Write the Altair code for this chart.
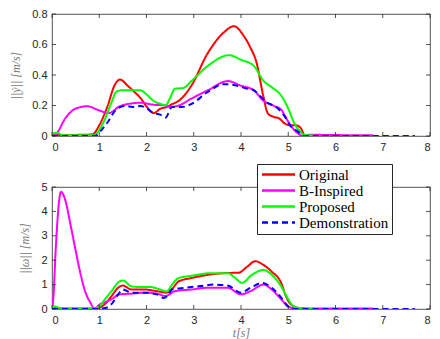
import altair as alt
import pandas as pd

series = ["Original", "B-Inspired", "Proposed", "Demonstration"]
colors = ["#ff0000", "#ff00ff", "#00ff00", "#0000ff"]

# ---- top panel: ||y'|| ----
top_orig_t = [0, 0.3, 0.6, 0.85, 1.0, 1.18, 1.32, 1.44, 1.6, 1.74, 1.87, 2.01, 2.15, 2.3, 2.43, 2.55, 2.68, 2.95, 3.29, 3.64, 3.85, 4.05, 4.19, 4.33, 4.47, 4.57, 4.7, 4.81, 4.92, 5.05, 5.17, 5.27, 5.35, 5.45]
top_orig_v = [0.012, 0.005, 0.008, 0.01, 0.07, 0.2, 0.33, 0.37, 0.33, 0.29, 0.25, 0.19, 0.15, 0.18, 0.19, 0.21, 0.23, 0.33, 0.54, 0.68, 0.72, 0.66, 0.585, 0.48, 0.265, 0.147, 0.125, 0.115, 0.083, 0.07, 0.07, 0.05, 0.005, 0.003]

top_bins_t = [0.0, 0.08, 0.28, 0.5, 0.75, 0.98, 1.2, 1.45, 1.87, 2.15, 2.42, 2.5, 2.68, 2.95, 3.3, 3.72, 4.0, 4.27, 4.48, 4.68, 4.86, 4.92, 5.05, 5.19, 5.33, 5.45, 6.0, 6.8]
top_bins_v = [0.0, 0.01, 0.115, 0.18, 0.195, 0.17, 0.15, 0.197, 0.218, 0.205, 0.2, 0.19, 0.2, 0.245, 0.3, 0.36, 0.33, 0.30, 0.23, 0.2, 0.17, 0.137, 0.07, 0.02, 0.0, 0.008, 0.006, 0.005]

top_prop_t = [0, 0.1, 0.25, 0.6, 0.88, 1.09, 1.26, 1.36, 1.48, 1.74, 1.87, 2.01, 2.15, 2.3, 2.4, 2.5, 2.6, 2.78, 2.95, 3.3, 3.75, 4.0, 4.27, 4.48, 4.65, 4.85, 5.0, 5.13, 5.25, 5.34, 5.55]
top_prop_v = [0.015, 0.02, 0.005, 0.005, 0.005, 0.09, 0.22, 0.29, 0.30, 0.30, 0.30, 0.27, 0.23, 0.21, 0.2, 0.25, 0.31, 0.315, 0.36, 0.46, 0.53, 0.5, 0.46, 0.36, 0.32, 0.265, 0.18, 0.083, 0.03, 0.008, 0.003]

top_demo_t = [0, 0.3, 0.6, 0.9, 1.05, 1.2, 1.35, 1.55, 1.74, 1.87, 2.01, 2.15, 2.29, 2.4, 2.54, 2.75, 2.95, 3.3, 3.64, 3.85, 4.13, 4.27, 4.41, 4.55, 4.68, 4.78, 4.9, 5.05, 5.2, 5.33, 6.0, 7.0, 7.68]
top_demo_v = [0.0, 0.0, 0.0, 0.0, 0.04, 0.1, 0.17, 0.197, 0.19, 0.197, 0.18, 0.15, 0.14, 0.12, 0.19, 0.19, 0.21, 0.29, 0.34, 0.335, 0.31, 0.30, 0.26, 0.22, 0.2, 0.18, 0.14, 0.065, 0.03, 0.0, 0.0, 0.0, 0.0]

# ---- bottom panel: ||w|| ----
bot_orig_t = [0, 0.1, 0.3, 0.6, 0.9, 1.0, 1.12, 1.26, 1.4, 1.5, 1.68, 1.95, 2.22, 2.43, 2.55, 2.68, 2.95, 3.3, 3.64, 3.95, 4.13, 4.3, 4.48, 4.65, 4.85, 4.95, 5.05, 5.2, 5.4]
bot_orig_v = [0.02, 0.05, 0.02, 0.02, 0.02, 0.05, 0.2, 0.53, 0.87, 0.96, 0.8, 0.8, 0.73, 0.67, 0.85, 1.13, 1.27, 1.4, 1.47, 1.49, 1.73, 1.96, 1.8, 1.53, 1.07, 0.53, 0.2, 0.05, 0.0]

bot_bins_t = [0, 0.03, 0.08, 0.19, 0.29, 0.39, 0.5, 0.6, 0.7, 0.81, 0.9, 1.02, 1.15, 1.26, 1.43, 1.68, 1.95, 2.22, 2.4, 2.6, 2.95, 3.3, 3.72, 4.0, 4.2, 4.48, 4.65, 4.85, 5.0, 5.13, 6.0, 6.8]
bot_bins_v = [0.0, 0.5, 2.5, 4.8, 4.4, 3.47, 2.4, 1.47, 0.73, 0.27, 0.02, 0.2, 0.3, 0.4, 0.6, 0.63, 0.67, 0.63, 0.53, 0.73, 0.8, 0.87, 0.87, 0.6, 0.73, 1.0, 0.8, 0.4, 0.1, 0.03, 0.02, 0.02]

bot_prop_t = [0, 0.05, 0.15, 0.3, 0.6, 0.9, 1.0, 1.12, 1.26, 1.4, 1.5, 1.68, 1.88, 2.08, 2.29, 2.43, 2.54, 2.68, 2.95, 3.37, 3.72, 3.88, 4.02, 4.23, 4.48, 4.65, 4.85, 5.0, 5.1, 5.27, 5.6]
bot_prop_v = [0.05, 0.1, 0.05, 0.02, 0.02, 0.02, 0.1, 0.4, 0.73, 1.09, 1.17, 0.93, 0.9, 0.9, 0.8, 0.72, 1.0, 1.27, 1.36, 1.47, 1.47, 1.27, 1.07, 1.4, 1.6, 1.4, 0.93, 0.4, 0.13, 0.03, 0.0]

bot_demo_t = [0, 0.5, 1.0, 1.15, 1.26, 1.4, 1.5, 1.68, 1.95, 2.22, 2.36, 2.45, 2.54, 2.81, 3.1, 3.44, 3.72, 4.0, 4.2, 4.45, 4.65, 4.85, 5.0, 5.13, 6.0, 7.0, 7.68]
bot_demo_v = [0, 0, 0, 0.05, 0.2, 0.6, 0.8, 0.67, 0.67, 0.6, 0.45, 0.55, 0.8, 0.87, 0.93, 1.0, 0.96, 0.67, 0.87, 1.07, 0.87, 0.47, 0.1, 0.0, 0, 0, 0]

x_ticks = [0, 1, 2, 3, 4, 5, 6, 7, 8]
top_y_ticks = [0, 0.2, 0.4, 0.6, 0.8]
bot_y_ticks = [0, 1, 2, 3, 4, 5]


def frame(pairs):
    rows = []
    for name, ts, vs in pairs:
        for i, (t, v) in enumerate(zip(ts, vs)):
            rows.append({"t": t, "v": v, "series": name, "k": i})
    return pd.DataFrame(rows)


top_df = frame([("Original", top_orig_t, top_orig_v), ("B-Inspired", top_bins_t, top_bins_v),
                ("Proposed", top_prop_t, top_prop_v), ("Demonstration", top_demo_t, top_demo_v)])
bot_df = frame([("Original", bot_orig_t, bot_orig_v), ("B-Inspired", bot_bins_t, bot_bins_v),
                ("Proposed", bot_prop_t, bot_prop_v), ("Demonstration", bot_demo_t, bot_demo_v)])

W, H = 378, 122
AX = "#262626"

legend = alt.Legend(
    orient="none", legendX=205, legendY=-23, title=None,
    fillColor="white", strokeColor=AX, padding=3,
    labelFont="Liberation Serif", labelFontSize=15, labelColor="black",
    symbolType="M-1,0H5", symbolSize=121, symbolStrokeWidth=2.5,
    rowPadding=0, labelOffset=24, cornerRadius=0,
)


def axis(values, title, fmt=None, tsize=12, tpad=9):
    kw = dict(values=values, ticks=False, domain=False, grid=False,
              labelFont="Liberation Sans", labelFontSize=11, labelColor=AX,
              labelPadding=5, titleFont="Liberation Serif", titleFontStyle="italic",
              titleFontSize=tsize, titleColor="#777777", titleFontWeight="normal",
              titlePadding=tpad, title=title)
    if fmt:
        kw["format"] = fmt
    return alt.Axis(**kw)


def panel(df, ymax, yticks, ytitle, xtitle, show_legend, yfmt=None):
    xs = alt.Scale(domain=[0, 8], nice=False)
    ys = alt.Scale(domain=[0, ymax], nice=False)
    xax = axis(x_ticks, xtitle, tsize=12, tpad=2)
    yax = axis(yticks, ytitle, yfmt)
    leg = legend if show_legend else None
    lines = alt.Chart(df).mark_line(strokeWidth=2, interpolate="monotone", clip=True).encode(
        x=alt.X("t:Q", scale=xs, axis=xax),
        y=alt.Y("v:Q", scale=ys, axis=yax),
        color=alt.Color("series:N", scale=alt.Scale(domain=series, range=colors), legend=leg, sort=series),
        strokeDash=alt.StrokeDash("series:N", scale=alt.Scale(domain=series, range=[[1, 0], [1, 0], [1, 0], [6, 4]]), legend=leg, sort=series),
        order="k:Q",
    )
    xt = pd.DataFrame({"t": x_ticks})
    yt = pd.DataFrame({"v": yticks})
    tick_style = dict(color=AX, strokeWidth=0.8)
    xb = alt.Chart(xt).mark_rule(**tick_style).encode(
        x=alt.X("t:Q", scale=xs, axis=xax), y=alt.value(H), y2=alt.value(H - 4))
    xtp = alt.Chart(xt).mark_rule(**tick_style).encode(
        x=alt.X("t:Q", scale=xs, axis=xax), y=alt.value(0), y2=alt.value(4))
    yl = alt.Chart(yt).mark_rule(**tick_style).encode(
        y=alt.Y("v:Q", scale=ys, axis=yax), x=alt.value(0), x2=alt.value(4))
    yr = alt.Chart(yt).mark_rule(**tick_style).encode(
        y=alt.Y("v:Q", scale=ys, axis=yax), x=alt.value(W), x2=alt.value(W - 4))
    return alt.layer(lines, xb, xtp, yl, yr).properties(width=W, height=H)


top = panel(top_df, 0.8, top_y_ticks, "||ẏ|| [m/s]", None, False, yfmt=".1~f")
bot = panel(bot_df, 5, bot_y_ticks, "||ω|| [m/s]", "t[s]", True)

chart = alt.vconcat(top, bot, spacing=10).resolve_legend(
    color="independent", strokeDash="independent"
).configure(padding={"left": 1, "top": -1, "right": 0, "bottom": 2}, background="white").configure_view(
    stroke=AX, strokeWidth=0.8
)

chart.save("out.html", embed_options={"renderer": "svg", "actions": False})
